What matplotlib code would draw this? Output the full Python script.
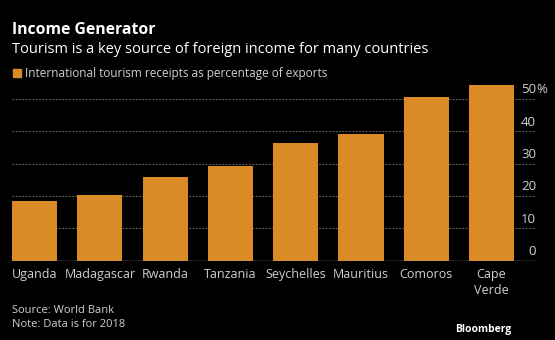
import matplotlib.pyplot as plt

# Datos
paises = ["Uganda", "Madagascar", "Rwanda", "Tanzania", "Seychelles",
          "Mauritius", "Comoros", "Cape\nVerde"]
porcentaje = [18.4, 20.2, 25.8, 29.4, 36.4, 39.1, 50.8, 54.4]
ticks_y = [0, 10, 20, 30, 40, 50]
etiquetas_y = ["0", "10", "20", "30", "40", "50"]

naranja = "#da8b26"
gris_texto = "#d0d0d0"

plt.rcParams['font.family'] = ['Open Sans', 'DejaVu Sans']

fig = plt.figure(figsize=(5.55, 3.40), dpi=100, facecolor="black")
ax = fig.add_axes([0.0216, 0.2332, 0.9442, 0.5226])
ax.set_facecolor("black")

x = range(len(paises))
ax.bar(x, porcentaje, width=0.69, color=naranja, zorder=2)

ax.set_xlim(-0.345, 7.68)
ax.set_ylim(0, 55)

# Lineas de grilla punteadas
for v in ticks_y[1:]:
    ax.axhline(v, color="#6a6a6a", lw=0.8, ls=(0, (1.5, 1.5)), zorder=1)
ax.axhline(0, color="#9a9a9a", lw=1.0, zorder=3)

for s in ax.spines.values():
    s.set_visible(False)
ax.set_yticks([])
ax.set_xticks(list(x))
ax.set_xticklabels(paises, color=gris_texto, fontsize=9, linespacing=1.3)
ax.tick_params(axis="x", length=0, pad=5)

# Etiquetas del eje Y arriba de cada linea
for v, lab in zip(ticks_y, etiquetas_y):
    ax.annotate(lab, xy=(1.0, v), xycoords=("axes fraction", "data"),
                xytext=(0, 2), textcoords="offset points",
                ha="right", va="bottom", color=gris_texto, fontsize=9.5)
ax.annotate("%", xy=(1.0, 50), xycoords=("axes fraction", "data"),
            xytext=(0.5, 2), textcoords="offset points",
            ha="left", va="bottom", color=gris_texto, fontsize=9.5)

# Titulos
fig.text(0.0216, 0.913, "Income Generator", color="white", fontsize=11.3,
         fontweight="bold", va="center")
fig.text(0.0216, 0.855, "Tourism is a key source of foreign income for many countries",
         color="white", fontsize=10.5, va="center")

# Leyenda
fig.patches.append(plt.Rectangle((0.0234, 0.774), 0.0144, 0.0235,
                                 transform=fig.transFigure, color=naranja))
fig.text(0.045, 0.784, "International tourism receipts as percentage of exports",
         color=gris_texto, fontsize=8.5, va="center")

# Fuente
fig.text(0.0216, 0.066, "Source: World Bank\nNote: Data is for 2018",
         color=gris_texto, fontsize=8, va="center", linespacing=1.3)
fig.text(0.921, 0.032, "Bloomberg", color="white", fontsize=7.5,
         fontweight="bold", ha="right", va="center")

fig.savefig("out.png", dpi=100, facecolor="black")
